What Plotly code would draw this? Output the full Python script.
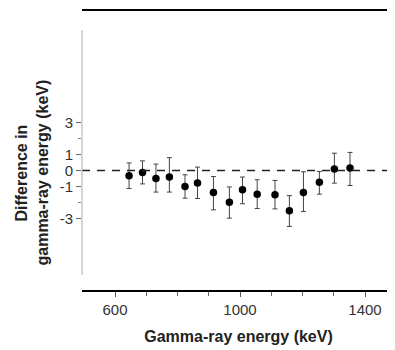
import plotly.graph_objects as go

energy = [645, 688, 731, 774, 824, 864, 915, 966, 1008, 1055, 1112, 1158, 1203, 1254, 1302, 1352]
diff = [-0.33, -0.12, -0.5, -0.4, -1.0, -0.79, -1.38, -1.98, -1.21, -1.48, -1.52, -2.52, -1.38, -0.73, 0.1, 0.15]
err_plus = [0.8, 0.72, 0.9, 1.2, 0.73, 1.0, 1.0, 0.95, 0.8, 0.9, 0.9, 0.95, 1.3, 0.67, 0.98, 0.98]
err_minus = [0.8, 0.72, 0.85, 0.95, 0.73, 0.96, 1.08, 1.0, 0.87, 0.9, 0.88, 0.98, 1.18, 0.75, 0.89, 1.09]

x_ticks = [600, 1000, 1400]
x_minor = [700, 800, 900, 1100, 1200, 1300]
y_ticks = [3, 1, 0, -1, -3]
y_minor = [2, -2]

FONT = "Liberation Sans, Arial, sans-serif"

fig = go.Figure()
fig.add_trace(go.Scatter(
    x=energy, y=diff, mode="markers",
    marker=dict(color="black", size=7.5),
    error_y=dict(type="data", symmetric=False, array=err_plus, arrayminus=err_minus,
                 color="#444", thickness=1, width=2.5),
    showlegend=False,
))

fig.update_layout(
    width=387, height=342,
    margin=dict(l=74, r=0, t=2, b=60),
    paper_bgcolor="white", plot_bgcolor="white",
    font=dict(family=FONT, color="#222"),
    xaxis=dict(range=[494.4, 1496], tickvals=x_ticks, ticktext=[str(v) for v in x_ticks],
               showgrid=False, zeroline=False, showline=True, linecolor="black", linewidth=2,
               ticks="outside", ticklen=5, tickcolor="#555", tickwidth=1,
               tickfont=dict(size=15, family=FONT, color="#333"),
               minor=dict(tickvals=x_minor, ticks="outside", ticklen=4, tickcolor="#666", tickwidth=1),
               title=dict(text="<b>Gamma-ray energy (keV)</b>", font=dict(size=16, family=FONT, color="#222"), standoff=14)),
    yaxis=dict(range=[-7.47, 10.03], tickvals=y_ticks, ticktext=[str(v) for v in y_ticks],
               showgrid=False, zeroline=False, showline=False,
               ticks="outside", ticklen=5, tickcolor="#666", tickwidth=1,
               tickfont=dict(size=15, family=FONT, color="#333"),
               minor=dict(tickvals=y_minor, ticks="outside", ticklen=3, tickcolor="#888", tickwidth=1)),
)

# dashed zero reference line
fig.add_shape(type="line", xref="paper", yref="y", x0=0, x1=1, y0=0, y1=0,
              line=dict(color="#222", width=1.5, dash="8px,7px"))
# top frame line
fig.add_shape(type="line", xref="paper", yref="paper", x0=0, x1=1, y0=1, y1=1,
              line=dict(color="black", width=2))
# faint left axis line
fig.add_shape(type="line", xref="paper", yref="y", x0=0, x1=0, y0=8.78, y1=-6.53,
              line=dict(color="#aaa", width=1))

fig.add_annotation(text="<b>Difference in</b>", textangle=-90, showarrow=False,
                   xref="paper", yref="paper", x=-0.193, y=0.418, xanchor="center", yanchor="middle",
                   font=dict(size=16, family=FONT, color="#222"))
fig.add_annotation(text="<b>gamma-ray energy (keV)</b>", textangle=-90, showarrow=False,
                   xref="paper", yref="paper", x=-0.126, y=0.418, xanchor="center", yanchor="middle",
                   font=dict(size=16, family=FONT, color="#222"))

fig.write_html("out.html", config={"displayModeBar": False})
